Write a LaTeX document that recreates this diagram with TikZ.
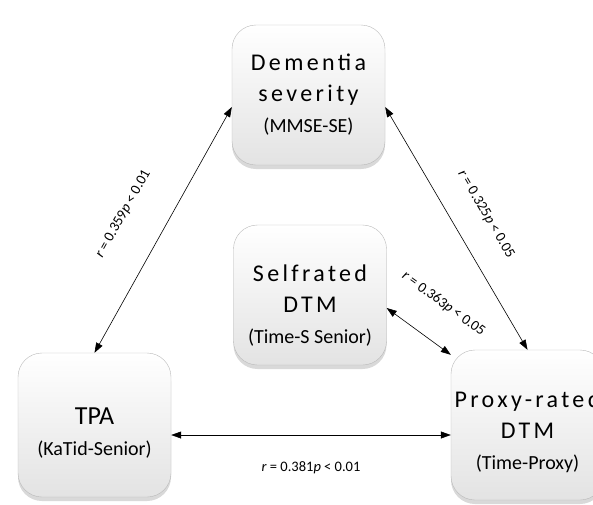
\documentclass[tikz,border=0pt]{standalone}
\usepackage{fontspec}
\setmainfont{Carlito}
\newfontfamily\widefont[LetterSpace=14]{Carlito}
\usetikzlibrary{arrows.meta,shadows}

\begin{document}
\begin{tikzpicture}[
  x=1pt,y=-1pt,
  box/.style={draw=gray!55,line width=0.4pt,rounded corners=24pt,top color=white,bottom color=gray!22,
    minimum width=153pt,minimum height=140pt,align=center,
    drop shadow={shadow xshift=0pt,shadow yshift=-4pt,opacity=0.3}},
  big/.style={font=\fontsize{24}{31}\selectfont\widefont},
  arr/.style={{Triangle[length=10pt,width=7pt]}-{Triangle[length=10pt,width=7pt]},line width=0.6pt},
  lab/.style={font=\fontsize{14.5}{17}\selectfont,sloped}
]
\path[use as bounding box,clip] (0,0) rectangle (593,504);
\node[box,big] (sev) at (308.5,95) {Dementia\\severity\\{\normalfont\fontsize{20}{24}\selectfont (MMSE-SE)}};
\node[box,big] (self) at (310,295) {\rule{0pt}{37pt}Selfrated\\DTM\\{\normalfont\fontsize{20}{24}\selectfont (Time-S Senior)}};
\node[box,minimum height=144pt,font=\fontsize{26}{31}\selectfont] (tpa) at (94.5,425) {\rule{0pt}{33pt}TPA\\{\fontsize{20}{24}\selectfont (KaTid-Senior)}};
\node[box,big,minimum height=150pt] (proxy) at (527.5,425) {\rule{0pt}{31pt}Proxy-rated\\DTM\\{\normalfont\fontsize{20}{24}\selectfont (Time-Proxy)}};
% correlations
\draw[arr] (tpa.north) -- node[lab,above=33pt,pos=0.48] {\textit{r} = 0.359\textit{p} < 0.01} ([yshift=-12pt]sev.west);
\draw[arr] ([yshift=-12pt]sev.east) -- node[lab,above=23pt,pos=0.51] {\textit{r} = 0.325\textit{p} < 0.05} (proxy.north);
\draw[arr] ([yshift=-13pt]self.east) -- node[lab,above=27pt,pos=0.55] {\textit{r} = 0.363\textit{p} < 0.05} ([yshift=-5pt]proxy.north west);
\draw[arr] ([yshift=-10pt]tpa.east) -- node[lab,below=23pt] {\textit{r} = 0.381\textit{p} < 0.01} ([yshift=-10pt]proxy.west);
\end{tikzpicture}
\end{document}
